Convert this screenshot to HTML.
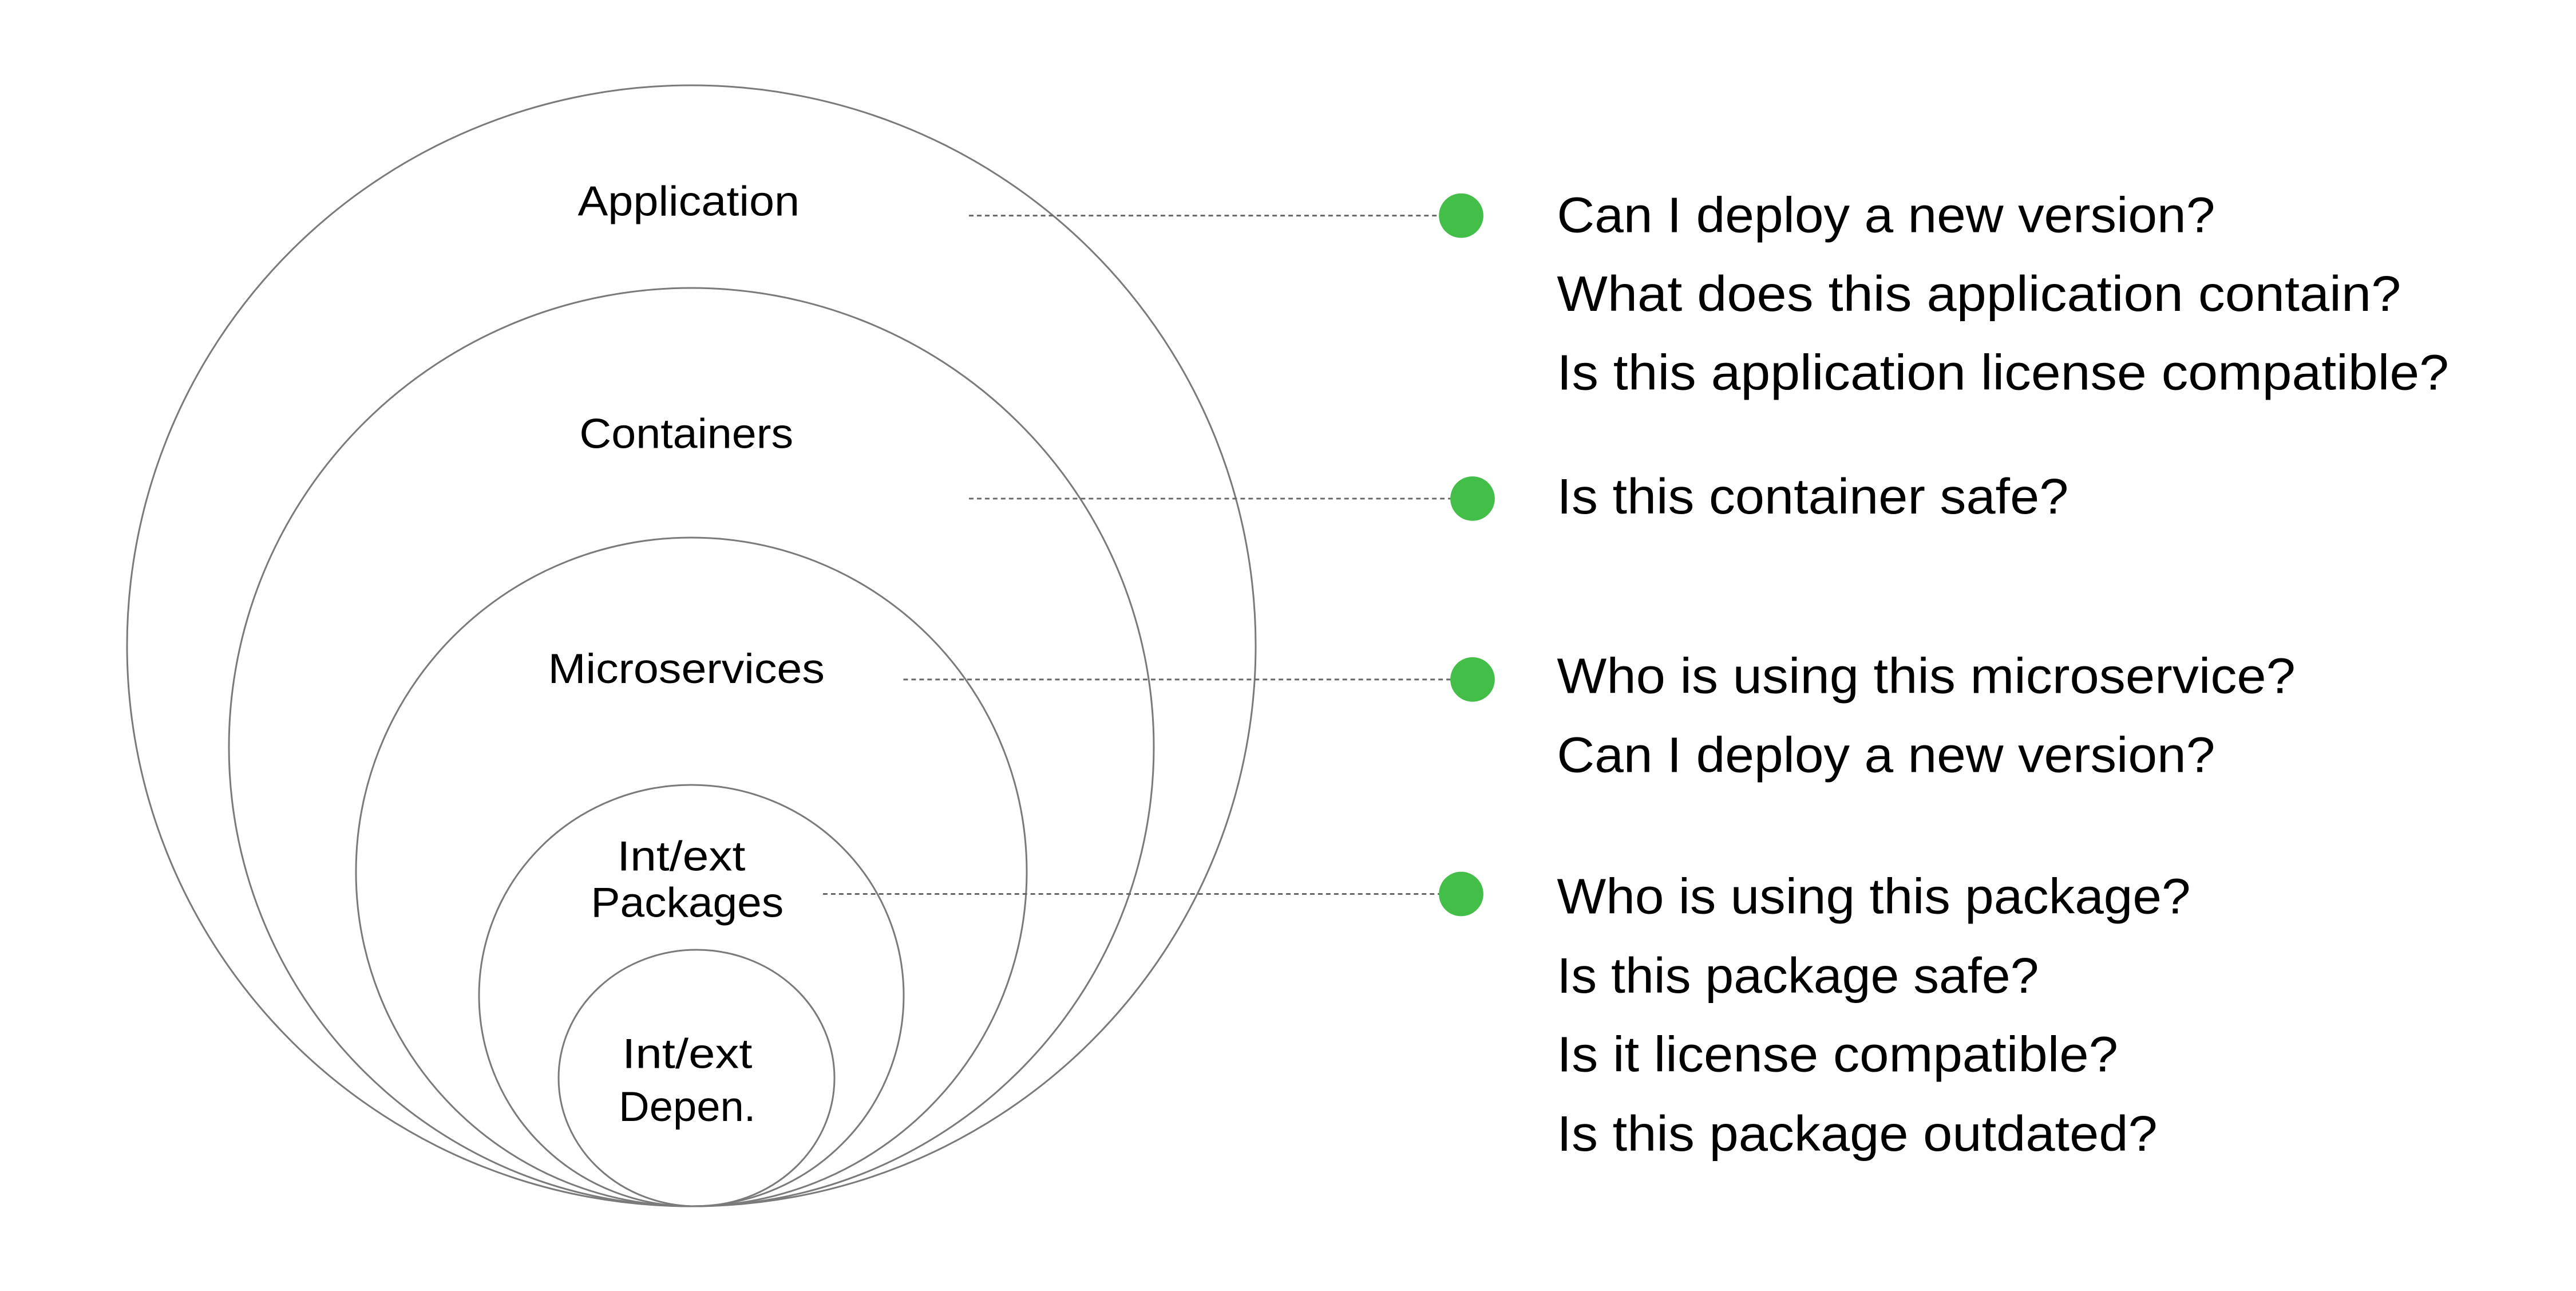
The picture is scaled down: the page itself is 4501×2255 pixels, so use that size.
<!DOCTYPE html>
<html><head><meta charset="utf-8"><style>
html,body{margin:0;padding:0;background:#fff}
svg{display:block}
</style></head><body>
<svg width="4501" height="2255" viewBox="0 0 4501 2255" xmlns="http://www.w3.org/2000/svg">
<g fill="none" stroke="#7a7a7a" stroke-width="3">
<ellipse cx="1208" cy="1128" rx="986" ry="979"/>
<ellipse cx="1208" cy="1305" rx="808" ry="802"/>
<ellipse cx="1208" cy="1523" rx="586" ry="584"/>
<ellipse cx="1208" cy="1739" rx="371" ry="368"/>
<ellipse cx="1217" cy="1883" rx="241" ry="224"/>
</g>
<g transform="scale(0.9965)">
<g stroke="#666" stroke-width="3" stroke-dasharray="8 6">
<line x1="1699" y1="378" x2="2550" y2="378"/>
<line x1="1699" y1="874" x2="2570" y2="874"/>
<line x1="1584" y1="1191" x2="2582" y2="1191"/>
<line x1="1443" y1="1567" x2="2562" y2="1567"/>
</g>
<g fill="#43be48">
<circle cx="2562" cy="378" r="39"/>
<circle cx="2582" cy="874" r="39"/>
<circle cx="2582" cy="1191" r="39"/>
<circle cx="2562" cy="1567" r="39"/>
</g>
<g font-family="Liberation Sans, sans-serif" font-size="74" fill="#000" text-anchor="start">
<text x="1013" y="378" textLength="389" lengthAdjust="spacingAndGlyphs">Application</text>
<text x="1016" y="785" textLength="375" lengthAdjust="spacingAndGlyphs">Containers</text>
<text x="961" y="1197" textLength="485" lengthAdjust="spacingAndGlyphs">Microservices</text>
<text x="1082" y="1526" textLength="225" lengthAdjust="spacingAndGlyphs">Int/ext</text>
<text x="1036" y="1607" textLength="338" lengthAdjust="spacingAndGlyphs">Packages</text>
<text x="1091" y="1872" textLength="228" lengthAdjust="spacingAndGlyphs">Int/ext</text>
<text x="1085" y="1965" textLength="240" lengthAdjust="spacingAndGlyphs">Depen.</text>
</g>
<g font-family="Liberation Sans, sans-serif" font-size="88" fill="#000">
<text x="2730" y="407" textLength="1154" lengthAdjust="spacingAndGlyphs">Can I deploy a new version?</text>
<text x="2730" y="545" textLength="1480" lengthAdjust="spacingAndGlyphs">What does this application contain?</text>
<text x="2730" y="683" textLength="1564" lengthAdjust="spacingAndGlyphs">Is this application license compatible?</text>
<text x="2730" y="900" textLength="897" lengthAdjust="spacingAndGlyphs">Is this container safe?</text>
<text x="2730" y="1215" textLength="1295" lengthAdjust="spacingAndGlyphs">Who is using this microservice?</text>
<text x="2730" y="1353" textLength="1154" lengthAdjust="spacingAndGlyphs">Can I deploy a new version?</text>
<text x="2730" y="1601" textLength="1111" lengthAdjust="spacingAndGlyphs">Who is using this package?</text>
<text x="2730" y="1740" textLength="845" lengthAdjust="spacingAndGlyphs">Is this package safe?</text>
<text x="2730" y="1878" textLength="984" lengthAdjust="spacingAndGlyphs">Is it license compatible?</text>
<text x="2730" y="2017" textLength="1053" lengthAdjust="spacingAndGlyphs">Is this package outdated?</text>
</g>
</g>
</svg>
</body></html>
